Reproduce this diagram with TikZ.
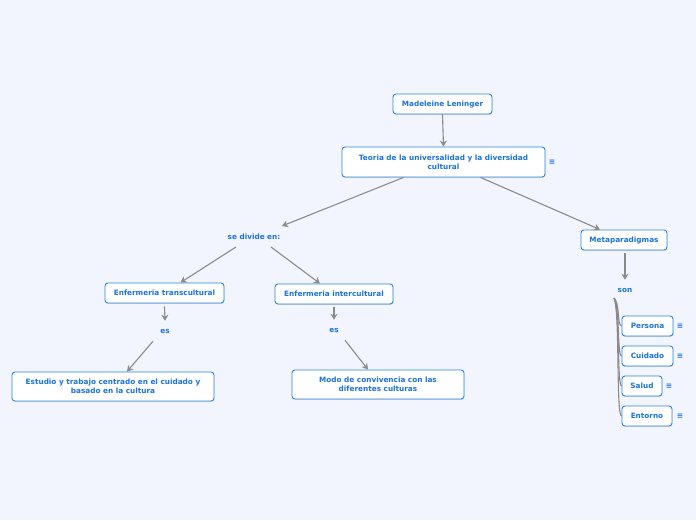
\documentclass[tikz,border=0pt]{standalone}
\usepackage{fontspec}
\setmainfont{DejaVu Sans}
\usetikzlibrary{arrows.meta,shadows}
\definecolor{bg}{HTML}{F2F5FD}
\definecolor{bord}{HTML}{2A86E0}
\definecolor{txt}{HTML}{1A72DE}
\definecolor{conn}{HTML}{8A8A8E}
\tikzset{
  box/.style={draw=bord, line width=0.9pt, fill=white, rounded corners=3pt,
    text=txt, font=\fontsize{7.3}{8.6}\selectfont\bfseries, align=center,
    inner sep=1pt, text depth=0pt,
    drop shadow={shadow xshift=0.4pt, shadow yshift=-0.9pt, fill=black!25, opacity=0.6}},
  lbl/.style={text=txt, font=\fontsize{7.3}{8.6}\selectfont\bfseries, inner sep=1pt, text depth=0pt},
  menu/.style={text=txt, font=\fontsize{7.5}{8}\selectfont\bfseries, inner sep=0pt},
  conn/.style={draw=conn, line width=1.1pt, -{Stealth[length=6pt,width=7pt]}},
  line/.style={draw=conn, line width=1.1pt}
}
\begin{document}
\begin{tikzpicture}[x=1pt,y=-1pt]
\fill[bg] (0,0) rectangle (696,520);
\useasboundingbox (0,0) rectangle (696,520);

\node[box, minimum width=99pt, minimum height=20pt] (ml) at (442.5,104) {Madeleine Leninger};
\node[box, minimum width=203pt, minimum height=30pt] (teo) at (443.5,162) {Teoria de la universalidad y la diversidad\\cultural};
\node[menu] (m0) at (552,162) {≡};

\node[lbl] (sde) at (254,237) {se divide en:};
\node[box, minimum width=86pt, minimum height=20pt] (meta) at (624,240) {Metaparadigmas};
\node[lbl] (son) at (625,290) {son};

\node[box, minimum width=119pt, minimum height=20pt] (et) at (164.5,293) {Enfermeria transcultural};
\node[box, minimum width=118pt, minimum height=20pt] (ei) at (334,294) {Enfermeria intercultural};
\node[lbl] (es1) at (165,331) {es};
\node[lbl] (es2) at (334,330) {es};

\node[box, minimum width=202pt, minimum height=29pt] (est) at (113,386.5) {Estudio y trabajo centrado en el cuidado y\\basado en la cultura};
\node[box, minimum width=172pt, minimum height=29pt] (modo) at (378,384.5) {Modo de convivencia con las\\diferentes culturas};

\node[box, minimum width=51pt, minimum height=20pt] (per) at (647.5,326) {Persona};
\node[menu] (m1) at (680,326) {≡};
\node[box, minimum width=51pt, minimum height=20pt] (cui) at (647.5,356) {Cuidado};
\node[menu] (m2) at (680,356) {≡};
\node[box, minimum width=40pt, minimum height=20pt] (sal) at (642,386) {Salud};
\node[menu] (m3) at (669,386) {≡};
\node[box, minimum width=50pt, minimum height=20pt] (ent) at (647,416) {Entorno};
\node[menu] (m4) at (680,416) {≡};

\draw[conn] (ml.south) -- (teo.north);
\draw[conn] ([xshift=-40pt]teo.south) -- ([xshift=28pt,yshift=7pt]sde.north);
\draw[conn] ([xshift=37pt]teo.south) -- ([xshift=-24pt]meta.north);
\draw[conn] ([xshift=-18pt,yshift=-6pt]sde.south) -- ([xshift=16pt]et.north);
\draw[conn] ([xshift=17pt,yshift=-6pt]sde.south) -- ([xshift=-14pt]ei.north);
\draw[conn] ([yshift=-3pt]et.south) -- ([yshift=7pt]es1.north);
\draw[conn] ([xshift=-12pt,yshift=-7pt]es1.south) -- ([xshift=14pt]est.north);
\draw[conn] ([yshift=-3pt]ei.south) -- ([yshift=7pt]es2.north);
\draw[conn] ([xshift=11pt,yshift=-7pt]es2.south) -- ([xshift=-10pt]modo.north);
\draw[conn] ([xshift=1pt,yshift=-3pt]meta.south) -- ([yshift=7pt]son.north);

\coordinate (sroot) at (614,298);
\draw[line] (sroot) .. controls (620,303) and (617,326) .. (per.west);
\draw[line] (sroot) .. controls (620,306) and (617,356) .. (cui.west);
\draw[line] (sroot) .. controls (620,309) and (617,386) .. (sal.west);
\draw[line] (sroot) .. controls (620,312) and (616,416) .. (ent.west);
\end{tikzpicture}
\end{document}
